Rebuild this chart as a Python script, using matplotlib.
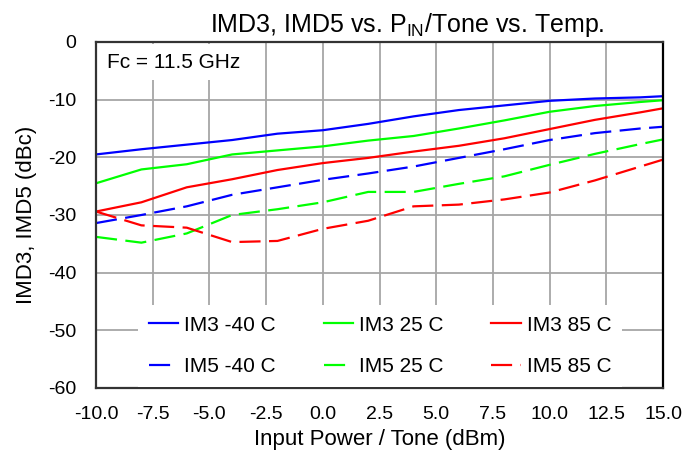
import matplotlib
matplotlib.use("Agg")
import matplotlib.pyplot as plt

x = [-10, -8, -6, -4, -2, 0, 2, 4, 6, 8, 10, 12, 14, 15]
im3_m40 = [-19.5, -18.6, -17.8, -17.0, -15.9, -15.3, -14.2, -12.9, -11.8, -11.0, -10.2, -9.8, -9.6, -9.4]
im3_25 = [-24.5, -22.1, -21.2, -19.5, -18.8, -18.1, -17.1, -16.3, -15.0, -13.6, -12.1, -11.1, -10.4, -10.1]
im3_85 = [-29.4, -27.8, -25.2, -23.8, -22.2, -21.0, -20.1, -19.0, -18.0, -16.7, -15.1, -13.5, -12.2, -11.5]
im5_m40 = [-31.4, -30.0, -28.5, -26.5, -25.2, -23.9, -22.8, -21.6, -20.1, -18.6, -17.0, -15.8, -15.0, -14.7]
im5_25 = [-33.8, -34.8, -33.2, -30.0, -29.0, -27.8, -26.0, -26.0, -24.6, -23.3, -21.3, -19.4, -17.7, -16.9]
im5_85 = [-29.4, -31.8, -32.2, -34.7, -34.5, -32.4, -31.0, -28.5, -28.2, -27.3, -26.1, -24.0, -21.6, -20.4]

xticks = [-10.0, -7.5, -5.0, -2.5, 0.0, 2.5, 5.0, 7.5, 10.0, 12.5, 15.0]
yticks = [0, -10, -20, -30, -40, -50, -60]

plt.rcParams['font.family'] = ['Liberation Sans', 'DejaVu Sans']
plt.rcParams['axes.unicode_minus'] = False

fig = plt.figure(figsize=(6.86, 4.55), dpi=100)
ax = fig.add_axes([0.14, 0.1473, 0.8265, 0.7604])

dash = (0, (9.5, 3.8))
lw = 1.6
series = [
    (im3_m40, '#0000FF', '-', 'IM3 -40 C'),
    (im5_m40, '#0000FF', dash, 'IM5 -40 C'),
    (im3_25, '#00FF00', '-', 'IM3 25 C'),
    (im5_25, '#00FF00', dash, 'IM5 25 C'),
    (im3_85, '#FF0000', '-', 'IM3 85 C'),
    (im5_85, '#FF0000', dash, 'IM5 85 C'),
]
for ys, c, ls, lab in series:
    ax.plot(x, ys, color=c, linestyle=ls, linewidth=lw, label=lab)

ax.set_xlim(-10, 15)
ax.set_ylim(-60, 0)
ax.set_xticks(xticks)
ax.set_xticklabels([f"{v:.1f}" for v in xticks])
ax.set_yticks(yticks)
ax.tick_params(axis='x', length=0, labelsize=14, pad=13)
ax.tick_params(axis='y', length=0, labelsize=14, pad=14)
ax.grid(True, color='#a6a6a6', linewidth=1.3)
ax.set_axisbelow(True)
for s in ax.spines.values():
    s.set_color('#333333')
    s.set_linewidth(1.6)
ax.spines['right'].set_color('#000000')

ax.set_xlabel('Input Power / Tone (dBm)', fontsize=16, labelpad=4)
ax.set_ylabel('IMD3, IMD5 (dBc)', fontsize=16)
ax.yaxis.set_label_coords(-0.105, 0.5)
ax.set_title(r'IMD3, IMD5 vs. P$_{\mathregular{IN}}$/Tone vs. Temp.', fontsize=18,
             pad=7, x=0.549)

ax.text(0.0194, 0.942, 'Fc = 11.5 GHz', transform=ax.transAxes, fontsize=15,
        va='center', ha='left',
        bbox=dict(facecolor='white', edgecolor='none', pad=6), zorder=5)

leg = ax.legend(ncol=3, loc='center', bbox_to_anchor=(0.501, 0.1214), fontsize=15,
                frameon=True, fancybox=False, edgecolor='none', framealpha=1,
                handlelength=1.4, handletextpad=0.3, columnspacing=2.3,
                labelspacing=1.1, borderpad=0.5)

fig.savefig('out.png', dpi=100)
